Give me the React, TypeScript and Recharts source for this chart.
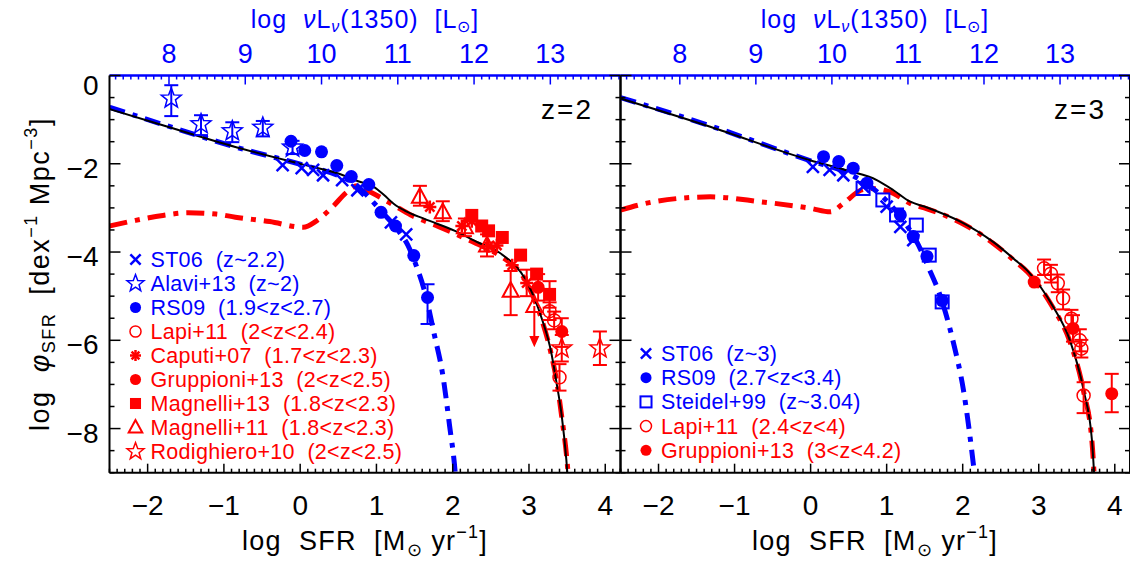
import React from 'react';
import { ComposedChart, Line, Scatter, XAxis, YAxis, ErrorBar } from 'recharts';

const BLUE = '#0000ff';
const RED = '#ff0000';
const BLACK = '#000000';
const FONT = '"Liberation Sans", Arimo, Arial, sans-serif';

type P = [number, number];
type E = number[]; // x, y, errLow?, errHigh?

// ---------- model curves (log SFR, log phi) ----------
const z2Total: P[] = [[-2.5,-0.76],[-1.78,-1.14],[-0.85,-1.62],[0.04,-2.02],[0.5,-2.22],[0.75,-2.39],[0.97,-2.53],[1.1,-2.71],[1.23,-2.91],[1.37,-3.06],[1.63,-3.25],[2.03,-3.52],[2.34,-3.79],[2.6,-4.0],[2.75,-4.2],[2.89,-4.45],[3.05,-4.96],[3.18,-5.57],[3.29,-6.26],[3.36,-6.95],[3.43,-7.72],[3.49,-8.71],[3.52,-9.4]];
const z2UV: P[] = [[-2.5,-0.72],[-1.78,-1.12],[-0.85,-1.62],[0.04,-2.03],[0.5,-2.27],[0.75,-2.5],[0.92,-2.8],[1.1,-3.14],[1.28,-3.5],[1.41,-3.84],[1.52,-4.3],[1.63,-4.88],[1.76,-5.88],[1.87,-6.79],[1.96,-7.95],[2.03,-8.95],[2.05,-9.4]];
const z2IR: P[] = [[-2.5,-3.41],[-2.18,-3.29],[-1.8,-3.17],[-1.47,-3.11],[-1.1,-3.14],[-0.85,-3.21],[-0.4,-3.31],[0.04,-3.44],[0.21,-3.3],[0.44,-2.95],[0.6,-2.66],[0.75,-2.5],[0.92,-2.64],[1.23,-2.94],[1.45,-3.16],[1.81,-3.42],[2.2,-3.72],[2.6,-4.06],[2.75,-4.24],[2.89,-4.47],[3.05,-4.99],[3.18,-5.6],[3.29,-6.3],[3.37,-7.0],[3.43,-7.74],[3.5,-8.75],[3.53,-9.4]];

const z3Total: P[] = [[-2.5,-0.52],[-1.32,-1.16],[-0.01,-1.92],[0.5,-2.16],[0.87,-2.37],[1.09,-2.6],[1.31,-2.86],[1.53,-2.99],[1.97,-3.31],[2.4,-3.77],[2.67,-4.15],[2.85,-4.42],[3.02,-4.78],[3.19,-5.24],[3.41,-6.0],[3.59,-7.13],[3.7,-8.27],[3.74,-9.4]];
const z3UV: P[] = [[-2.5,-0.5],[-1.32,-1.14],[-0.01,-1.93],[0.5,-2.22],[0.79,-2.52],[0.96,-2.77],[1.18,-3.2],[1.4,-3.78],[1.55,-4.35],[1.71,-5.02],[1.88,-6.07],[2.01,-7.13],[2.15,-8.95],[2.18,-9.4]];
const z3IR: P[] = [[-2.5,-3.05],[-2.06,-2.86],[-1.32,-2.75],[-0.66,-2.86],[0.0,-3.01],[0.26,-3.09],[0.43,-2.9],[0.66,-2.6],[0.79,-2.56],[1.09,-2.67],[1.31,-2.9],[1.53,-3.02],[1.97,-3.33],[2.4,-3.8],[2.67,-4.18],[2.85,-4.45],[3.19,-5.27],[3.41,-6.03],[3.59,-7.16],[3.7,-8.3],[3.74,-9.4]];

// ---------- observational data z=2 ----------
const z2ST06: E[] = [[-0.23,-2.03],[0.02,-2.1],[0.17,-2.14],[0.3,-2.26],[0.55,-2.37],[0.75,-2.6],[1.19,-3.33],[1.39,-3.6]];
const z2Alavi: E[] = [[-1.69,-0.52,0.4,0.3],[-1.3,-1.1,0.25,0.2],[-0.89,-1.26,0.25,0.2],[-0.49,-1.18,0.2,0.15],[-0.1,-1.63,0.15,0.15]];
const z2RS09: E[] = [[-0.12,-1.49],[0.06,-1.7],[0.28,-1.73],[0.48,-2.04],[0.67,-2.29],[0.9,-2.47],[1.06,-3.1],[1.25,-3.41],[1.49,-4.08],[1.67,-5.03,0.6,0.3]];
const z2Lapi: E[] = [[3.27,-5.34,0.2,0.2],[3.33,-5.55,0.2,0.2],[3.4,-6.84,0.3,0.3]];
const z2Caputi: E[] = [[1.7,-2.98],[2.12,-3.41],[2.25,-3.3],[2.47,-3.87],[2.58,-3.85],[2.78,-4.3],[2.97,-4.7,0.3,0.3]];
const z2Gruppioni: E[] = [[3.12,-4.8,0.3,0.3],[3.43,-5.8,0.35,0.3]];
const z2Magnelli13: E[] = [[2.25,-3.17],[2.38,-3.41],[2.47,-3.52],[2.65,-3.67],[2.89,-4.07],[3.1,-4.5],[3.27,-4.96,0.3,0.3]];
const z2Magnelli11: E[] = [[1.57,-2.75,0.2,0.25],[1.87,-3.1,0.2,0.25],[2.16,-3.44,0.2,0.2],[2.45,-3.85,0.25,0.25],[2.76,-4.88,0.55,0.45]];
const z2Magnelli11Limit: E[] = [[3.07,-5.22]];
const z2Rodighiero: E[] = [[3.43,-6.18,0.3,0.3],[3.93,-6.18,0.38,0.38]];

// ---------- observational data z=3 ----------
const z3ST06: E[] = [[0.03,-2.07],[0.25,-2.14],[0.43,-2.26],[0.69,-2.52],[1.0,-2.97],[1.18,-3.43],[1.35,-3.73]];
const z3RS09: E[] = [[0.17,-1.84],[0.37,-1.95],[0.56,-2.1],[0.74,-2.44],[1.18,-3.16],[1.35,-3.65],[1.53,-4.1],[1.73,-5.1]];
const z3Steidel: E[] = [[0.69,-2.56],[0.95,-2.82],[1.13,-3.16],[1.39,-3.39],[1.56,-4.07],[1.73,-5.13]];
const z3Lapi: E[] = [[3.07,-4.37,0.15,0.2],[3.16,-4.49,0.2,0.2],[3.25,-4.71,0.2,0.2],[3.32,-5.05,0.25,0.2],[3.43,-5.51,0.2,0.2],[3.54,-6.0,0.25,0.25],[3.56,-6.19,0.2,0.2],[3.59,-7.25,0.4,0.3]];
const z3Gruppioni: E[] = [[2.94,-4.68],[3.45,-5.73,0.3,0.3],[3.96,-7.21,0.42,0.45]];

// ---------- legends ----------
const z2LegendLabels = ['ST06  (z~2.2)', 'Alavi+13  (z~2)', 'RS09  (1.9<z<2.7)', 'Lapi+11  (2<z<2.4)', 'Caputi+07  (1.7<z<2.3)', 'Gruppioni+13  (2<z<2.5)', 'Magnelli+13  (1.8<z<2.3)', 'Magnelli+11  (1.8<z<2.3)', 'Rodighiero+10  (2<z<2.5)'];
const z2LegendKinds = ['x', 'star', 'circle', 'ocircle', 'asterisk', 'circle', 'square', 'triangle', 'star'];
const z2LegendColors = [BLUE, BLUE, BLUE, RED, RED, RED, RED, RED, RED];
const z3LegendLabels = ['ST06  (z~3)', 'RS09  (2.7<z<3.4)', 'Steidel+99  (z~3.04)', 'Lapi+11  (2.4<z<4)', 'Gruppioni+13  (3<z<4.2)'];
const z3LegendKinds = ['x', 'circle', 'osquare', 'ocircle', 'circle'];
const z3LegendColors = [BLUE, BLUE, BLUE, RED, RED];

// ---------- axes ----------
const X_DOMAIN: [number, number] = [-2.5, 4.2];
const Y_DOMAIN: [number, number] = [-9, 0];
const LOG_L_OFFSET = 9.72; // log nuL_nu(1350) = log SFR + offset
const xMajorTicks = [-2, -1, 0, 1, 2, 3, 4];
const yMajorTicks = [0, -2, -4, -6, -8];
const topMajorTicks = [8, 9, 10, 11, 12, 13];

function steps(a: number, b: number, step: number) {
  const out: number[] = [];
  const n = Math.round((b - a) / step);
  for (let i = 0; i <= n; i++) out.push(Math.round((a + i * step) * 10) / 10);
  return out;
}
const xTicks = steps(-2.5, 4.2, 0.1);
const yTicks = steps(-9, 0, 0.5);
const topTicks = steps(7.3, 13.9, 0.1);
// invisible anchors so the top (luminosity) axis is registered with a series
const topAnchor = topMajorTicks.map((v) => ({ x: v, y: Y_DOMAIN[0] - 5 }));

const fmt = (v: number) => (v < 0 ? '\u2212' + Math.abs(v) : String(v));
const toObj = (a: P[]) => a.map(([x, y]) => ({ x, y }));
const toPts = (a: E[]) => a.map((r) => ({ x: r[0], y: r[1], e: r.length > 2 ? [r[2], r[3] ?? r[2]] : undefined }));
const isMajor = (arr: number[], v: number) => arr.some((m) => Math.abs(m - v) < 1e-6);

// ---------- markers ----------
function starPoints(cx: number, cy: number, R: number) {
  const pts: string[] = [];
  for (let k = 0; k < 10; k++) {
    const r = k % 2 === 0 ? R : R * 0.42;
    const a = (-90 + k * 36) * Math.PI / 180;
    pts.push(`${cx + r * Math.cos(a)},${cy + r * Math.sin(a)}`);
  }
  return pts.join(' ');
}

function Marker({ kind, cx, cy, color, s = 1 }: any) {
  if (cx == null || cy == null) return null;
  switch (kind) {
    case 'x': {
      const r = 6 * s;
      return (<g stroke={color} strokeWidth={2.5}><line x1={cx - r} y1={cy - r} x2={cx + r} y2={cy + r} /><line x1={cx - r} y1={cy + r} x2={cx + r} y2={cy - r} /></g>);
    }
    case 'star':
      return <polygon points={starPoints(cx, cy, 10.5 * s)} fill="none" stroke={color} strokeWidth={1.5} />;
    case 'circle':
      return <circle cx={cx} cy={cy} r={6.5 * s} fill={color} />;
    case 'ocircle':
      return <circle cx={cx} cy={cy} r={6.5 * s} fill="none" stroke={color} strokeWidth={1.5} />;
    case 'asterisk': {
      const r = 6.5 * s;
      const d = r * 0.707;
      return (<g stroke={color} strokeWidth={2.5}><line x1={cx - r} y1={cy} x2={cx + r} y2={cy} /><line x1={cx} y1={cy - r} x2={cx} y2={cy + r} /><line x1={cx - d} y1={cy - d} x2={cx + d} y2={cy + d} /><line x1={cx - d} y1={cy + d} x2={cx + d} y2={cy - d} /></g>);
    }
    case 'square': {
      const h = 6.5 * s;
      return <rect x={cx - h} y={cy - h} width={2 * h} height={2 * h} fill={color} />;
    }
    case 'osquare': {
      const h = 6.5 * s;
      return <rect x={cx - h} y={cy - h} width={2 * h} height={2 * h} fill="none" stroke={color} strokeWidth={2} />;
    }
    case 'triangle': {
      const h = 8 * s;
      return <polygon points={`${cx},${cy - h * 1.1} ${cx - h},${cy + h * 0.75} ${cx + h},${cy + h * 0.75}`} fill="none" stroke={color} strokeWidth={2} />;
    }
    case 'limit': {
      const h = 8 * s;
      return (<g stroke={color} strokeWidth={2} fill="none">
        <polygon points={`${cx},${cy - h * 1.1} ${cx - h},${cy + h * 0.75} ${cx + h},${cy + h * 0.75}`} />
        <line x1={cx} y1={cy} x2={cx} y2={cy + 38} />
        <polygon points={`${cx - 3.5},${cy + 31} ${cx + 3.5},${cy + 31} ${cx},${cy + 39}`} fill={color} />
      </g>);
    }
    default:
      return null;
  }
}

// ---------- ticks ----------
const BottomTick = (p: any) => {
  const v = p.payload.value;
  const major = isMajor(xMajorTicks, v);
  return (
    <g>
      <line x1={p.x} x2={p.x} y1={p.y} y2={p.y - (major ? 9 : 4)} stroke={BLACK} strokeWidth={1.5} />
      {major && (
        <text x={p.x} y={p.y + 42} textAnchor="middle" fontSize={28} fontFamily={FONT} fill={BLACK}>{fmt(v)}</text>
      )}
    </g>
  );
};

const TopTick = (p: any) => {
  const v = p.payload.value;
  const major = isMajor(topMajorTicks, v);
  return (
    <g>
      <line x1={p.x} x2={p.x} y1={p.y} y2={p.y + (major ? 9 : 4)} stroke={BLUE} strokeWidth={1.5} />
      {major && (
        <text x={p.x} y={p.y - 12.5} textAnchor="middle" fontSize={27} fontFamily={FONT} fill={BLUE}>{String(v)}</text>
      )}
    </g>
  );
};

const makeLeftTick = (labels: boolean) => (p: any) => {
  const v = p.payload.value;
  const major = isMajor(yMajorTicks, v);
  return (
    <g>
      <line x1={p.x} x2={p.x + (major ? 11 : 5)} y1={p.y} y2={p.y} stroke={BLACK} strokeWidth={1.5} />
      {labels && major && (
        <text x={p.x - 11} y={p.y + (v === 0 ? 19 : 14)} textAnchor="end" fontSize={28} fontFamily={FONT} fill={BLACK}>{fmt(v)}</text>
      )}
    </g>
  );
};

const RightTick = (p: any) => {
  const v = p.payload.value;
  const major = isMajor(yMajorTicks, v);
  return <line x1={p.x} x2={p.x - (major ? 11 : 5)} y1={p.y} y2={p.y} stroke={BLACK} strokeWidth={1.5} />;
};

// ---------- panel ----------
const PLOT_TOP = 75.5;
const PLOT_BOTTOM = 472.7;
const H = 561;

type SeriesDef = { data: E[]; kind: string; color: string };

function Panel({ left, width, plotLeft, plotRight, total, uv, ir, series, yLabels }: any) {
  const axisW = 10;
  const margin = {
    top: PLOT_TOP - axisW,
    bottom: H - PLOT_BOTTOM - axisW,
    left: plotLeft - left - axisW,
    right: left + width - plotRight - axisW,
  };
  return (
    <div style={{ position: 'absolute', left, top: 0 }}>
      <ComposedChart width={width} height={H} margin={margin}>
        <XAxis xAxisId="b" dataKey="x" type="number" orientation="bottom" domain={X_DOMAIN} allowDataOverflow ticks={xTicks} interval={0} height={axisW} tickSize={0} tickMargin={0} tickLine={false} axisLine={{ stroke: BLACK, strokeWidth: 2 }} tick={BottomTick} />
        <XAxis xAxisId="t" dataKey="x" type="number" orientation="top" domain={[X_DOMAIN[0] + LOG_L_OFFSET, X_DOMAIN[1] + LOG_L_OFFSET]} allowDataOverflow ticks={topTicks} interval={0} height={axisW} tickSize={0} tickMargin={0} tickLine={false} axisLine={{ stroke: BLUE, strokeWidth: 2.5 }} tick={TopTick} />
        <YAxis yAxisId="l" dataKey="y" type="number" orientation="left" domain={Y_DOMAIN} allowDataOverflow ticks={yTicks} interval={0} width={axisW} tickSize={0} tickMargin={0} tickLine={false} axisLine={{ stroke: BLACK, strokeWidth: 2 }} tick={makeLeftTick(yLabels)} />
        <YAxis yAxisId="r" dataKey="y" type="number" orientation="right" domain={Y_DOMAIN} allowDataOverflow ticks={yTicks} interval={0} width={axisW} tickSize={0} tickMargin={0} tickLine={false} axisLine={{ stroke: BLACK, strokeWidth: 2 }} tick={RightTick} />

        <Scatter xAxisId="t" yAxisId="r" data={topAnchor} dataKey="y" isAnimationActive={false} shape={() => <g />} />

        <Line xAxisId="b" yAxisId="l" data={toObj(ir)} dataKey="y" type="monotone" stroke={RED} strokeWidth={5} strokeDasharray="18 8 5 8" dot={false} isAnimationActive={false} />
        <Line xAxisId="b" yAxisId="l" data={toObj(uv)} dataKey="y" type="monotone" stroke={BLUE} strokeWidth={5} strokeDasharray="16 8 5 8" dot={false} isAnimationActive={false} />
        <Line xAxisId="b" yAxisId="l" data={toObj(total)} dataKey="y" type="monotone" stroke={BLACK} strokeWidth={2} dot={false} isAnimationActive={false} />

        {series.map((s: SeriesDef, i: number) => {
          const pts = toPts(s.data);
          const hasErr = pts.some((d) => d.e);
          return (
            <Scatter key={i} xAxisId="b" yAxisId="l" data={pts} dataKey="y" fill={s.color} isAnimationActive={false}
              shape={(p: any) => <Marker kind={s.kind} cx={p.cx} cy={p.cy} color={s.color} />}>
              {hasErr && <ErrorBar dataKey="e" direction="y" width={7} stroke={s.color} strokeWidth={2} />}
            </Scatter>
          );
        })}
      </ComposedChart>
    </div>
  );
}

function Legend({ x, y0, step, labels, kinds, colors }: any) {
  return (
    <g>
      {labels.map((t: string, i: number) => (
        <g key={i}>
          <Marker kind={kinds[i]} cx={x} cy={y0 + i * step} color={colors[i]} s={0.85} />
          <text x={x + 15} y={y0 + i * step + 7.5} fontSize={21.5} fontFamily={FONT} fill={colors[i]} style={{ whiteSpace: 'pre' }} letterSpacing={0.3}>{t}</text>
        </g>
      ))}
    </g>
  );
}

function TopTitle({ cx }: { cx: number }) {
  return (
    <text x={cx} y={28} textAnchor="middle" fontSize={25} fontFamily={FONT} fill={BLUE} letterSpacing={1} style={{ whiteSpace: 'pre' }}>
      log  <tspan fontStyle="italic">&#957;</tspan>L<tspan fontSize={16} dy={4} fontStyle="italic">&#957;</tspan><tspan dy={-4}>(1350)  [L</tspan><tspan fontSize={16} dy={4}>&#8857;</tspan><tspan dy={-4}>]</tspan>
    </text>
  );
}

function BottomTitle({ cx }: { cx: number }) {
  return (
    <text x={cx} y={550} textAnchor="middle" fontSize={27} fontFamily={FONT} fill={BLACK} letterSpacing={1.2} style={{ whiteSpace: 'pre' }}>
      log  SFR  [M<tspan fontSize={18} dy={6}>&#8857;</tspan><tspan dy={-6}> yr</tspan><tspan fontSize={18} dy={-12}>{'\u22121'}</tspan><tspan dy={12}>]</tspan>
    </text>
  );
}

export default function App() {
  const z2Series: SeriesDef[] = [
    { data: z2Alavi, kind: 'star', color: BLUE },
    { data: z2ST06, kind: 'x', color: BLUE },
    { data: z2RS09, kind: 'circle', color: BLUE },
    { data: z2Magnelli11, kind: 'triangle', color: RED },
    { data: z2Magnelli11Limit, kind: 'limit', color: RED },
    { data: z2Caputi, kind: 'asterisk', color: RED },
    { data: z2Magnelli13, kind: 'square', color: RED },
    { data: z2Gruppioni, kind: 'circle', color: RED },
    { data: z2Lapi, kind: 'ocircle', color: RED },
    { data: z2Rodighiero, kind: 'star', color: RED },
  ];
  const z3Series: SeriesDef[] = [
    { data: z3ST06, kind: 'x', color: BLUE },
    { data: z3RS09, kind: 'circle', color: BLUE },
    { data: z3Steidel, kind: 'osquare', color: BLUE },
    { data: z3Lapi, kind: 'ocircle', color: RED },
    { data: z3Gruppioni, kind: 'circle', color: RED },
  ];
  return (
    <div style={{ position: 'absolute', left: 0, top: 0, width: 1130, height: 561, overflow: 'hidden', background: '#fff' }}>
      <Panel left={0} width={640} plotLeft={109.5} plotRight={620.5} total={z2Total} uv={z2UV} ir={z2IR} series={z2Series} yLabels={true} />
      <Panel left={560} width={580} plotLeft={620.5} plotRight={1130} total={z3Total} uv={z3UV} ir={z3IR} series={z3Series} yLabels={false} />
      <svg width={1130} height={561} style={{ position: 'absolute', left: 0, top: 0, pointerEvents: 'none' }}>
        <TopTitle cx={365} />
        <TopTitle cx={875} />
        <BottomTitle cx={365} />
        <BottomTitle cx={875} />
        <text transform="translate(49,274) rotate(-90)" textAnchor="middle" fontSize={27} fontFamily={FONT} fill={BLACK} letterSpacing={1.5} style={{ whiteSpace: 'pre' }}>
          log  <tspan fontStyle="italic">&#966;</tspan><tspan fontSize={18} dy={6}>SFR</tspan><tspan dy={-6}>  [dex</tspan><tspan fontSize={18} dy={-12}>{'\u22121'}</tspan><tspan dy={12}> Mpc</tspan><tspan fontSize={18} dy={-12}>{'\u22123'}</tspan><tspan dy={12}>]</tspan>
        </text>
        <text x={593} y={119} textAnchor="end" fontSize={28} fontFamily={FONT} fill={BLACK} letterSpacing={2}>z=2</text>
        <text x={1106} y={119} textAnchor="end" fontSize={28} fontFamily={FONT} fill={BLACK} letterSpacing={2}>z=3</text>
        <Legend x={135.5} y0={259.5} step={24} labels={z2LegendLabels} kinds={z2LegendKinds} colors={z2LegendColors} />
        <Legend x={646} y0={353.5} step={24.2} labels={z3LegendLabels} kinds={z3LegendKinds} colors={z3LegendColors} />
      </svg>
    </div>
  );
}
